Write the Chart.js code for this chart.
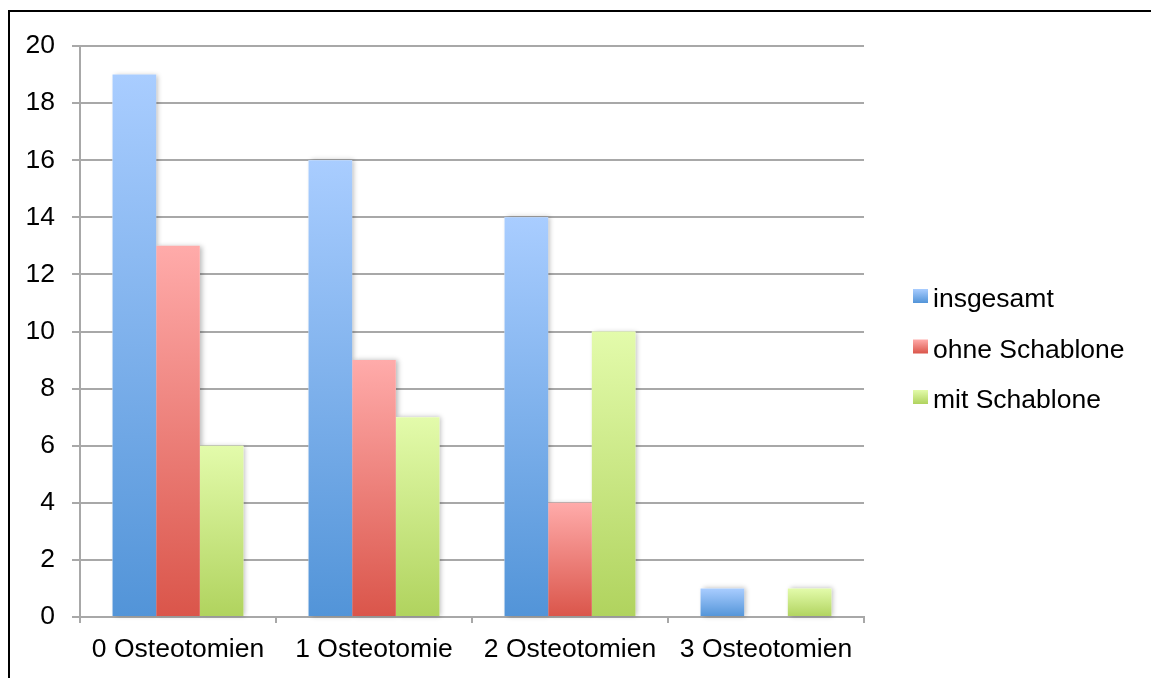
<!DOCTYPE html>
<html>
<head>
<meta charset="utf-8">
<script src="https://cdn.jsdelivr.net/npm/chart.js@4.4.1/dist/chart.umd.min.js"></script>
<style>
  html, body { margin: 0; padding: 0; background: #fff; overflow: hidden; width: 1151px; height: 678px; }
  #frame { position: absolute; left: 8px; top: 10px; width: 1400px; height: 900px;
           border-left: 2px solid #000; border-top: 2px solid #000; pointer-events: none; }
  #wrap { position: absolute; left: 0; top: 0; width: 1151px; height: 678px; }
</style>
</head>
<body>
<div id="frame"></div>
<div id="wrap"><canvas id="chart" width="1151" height="678"></canvas></div>
<script>
// Categories, series and axis values
const categories = ['0 Osteotomien', '1 Osteotomie', '2 Osteotomien', '3 Osteotomien'];
const seriesNames = ['insgesamt', 'ohne Schablone', 'mit Schablone'];
const insgesamt = [19, 16, 14, 1];
const ohneSchablone = [13, 9, 4, 0];
const mitSchablone = [6, 7, 10, 1];
const yMin = 0;
const yMax = 20;
const yStep = 2;

// Gradient stops per series: [top, bottom]
const seriesStops = [
  ['#a9cdff', '#5294d8'],
  ['#ffabaa', '#da554a'],
  ['#e3fbab', '#b0d35e']
];

const FONT = { family: '"Liberation Sans", Arial, Helvetica, sans-serif', size: 26.5 };
const GRID = '#a8a8a8';

function barFill(stops) {
  return (c) => {
    if (c.type !== 'data') return stops[1];
    const chart = c.chart;
    const y = chart.scales && chart.scales.y;
    if (!y) return stops[1];
    const top = y.getPixelForValue(c.raw);
    const bot = y.getPixelForValue(0);
    if (!isFinite(top) || !isFinite(bot) || bot - top < 0.5) return stops[1];
    const g = chart.ctx.createLinearGradient(0, top, 0, bot);
    g.addColorStop(0, stops[0]);
    g.addColorStop(1, stops[1]);
    return g;
  };
}

// Soft drop shadow painted underneath all bars
const barShadow = {
  id: 'barShadow',
  beforeDatasetsDraw(chart) {
    const ctx = chart.ctx;
    ctx.save();
    ctx.shadowColor = 'rgba(0,0,0,0.28)';
    ctx.shadowBlur = 5;
    ctx.shadowOffsetX = 2;
    ctx.shadowOffsetY = 0;
    ctx.fillStyle = '#ffffff';
    chart.data.datasets.forEach((ds, i) => {
      chart.getDatasetMeta(i).data.forEach(bar => {
        const p = bar.getProps(['x', 'y', 'base', 'width'], true);
        const h = p.base - p.y;
        if (h < 0.5) return;
        ctx.fillRect(p.x - p.width / 2, p.y, p.width, h);
      });
    });
    ctx.restore();
  }
};

// Legend at the right side with gradient swatches
const sideLegend = {
  id: 'sideLegend',
  afterDraw(chart) {
    const ctx = chart.ctx;
    const area = chart.chartArea;
    const boxX = area.right + 49;
    const textX = boxX + 20;
    const firstBase = 307;
    const gap = 50.5;
    ctx.save();
    ctx.font = FONT.size + 'px ' + FONT.family;
    ctx.textAlign = 'left';
    ctx.textBaseline = 'alphabetic';
    chart.data.datasets.forEach((ds, i) => {
      const base = firstBase + i * gap;
      const top = base - 18;
      const g = ctx.createLinearGradient(0, top, 0, top + 14);
      g.addColorStop(0, seriesStops[i][0]);
      g.addColorStop(1, seriesStops[i][1]);
      ctx.fillStyle = g;
      ctx.fillRect(boxX, top, 15, 14);
      ctx.fillStyle = '#000';
      ctx.fillText(ds.label, textX, base);
    });
    ctx.restore();
  }
};

const seriesValues = [insgesamt, ohneSchablone, mitSchablone];

new Chart(document.getElementById('chart'), {
  type: 'bar',
  data: {
    labels: categories,
    datasets: seriesValues.map((vals, i) => ({
      label: seriesNames[i],
      data: vals,
      backgroundColor: barFill(seriesStops[i]),
      borderWidth: 0,
      barPercentage: 1,
      categoryPercentage: 0.668
    }))
  },
  options: {
    responsive: false,
    animation: false,
    devicePixelRatio: 1,
    events: [],
    layout: { padding: { top: 46, right: 287, left: 0, bottom: 0 } },
    plugins: { legend: { display: false }, tooltip: { enabled: false } },
    scales: {
      x: {
        grid: { offset: true, drawOnChartArea: false, drawTicks: true, tickLength: 6, color: GRID, lineWidth: 2 },
        border: { color: GRID, width: 2 },
        ticks: { font: FONT, color: '#000', padding: 11, maxRotation: 0 },
        afterFit: s => { s.height = 61; }
      },
      y: {
        min: yMin,
        max: yMax,
        ticks: { stepSize: yStep, font: FONT, color: '#000', padding: 17 },
        grid: { color: GRID, lineWidth: 2, tickLength: 8 },
        border: { color: GRID, width: 2 },
        afterFit: s => { s.width = 80; }
      }
    }
  },
  plugins: [barShadow, sideLegend]
});
</script>
</body>
</html>
